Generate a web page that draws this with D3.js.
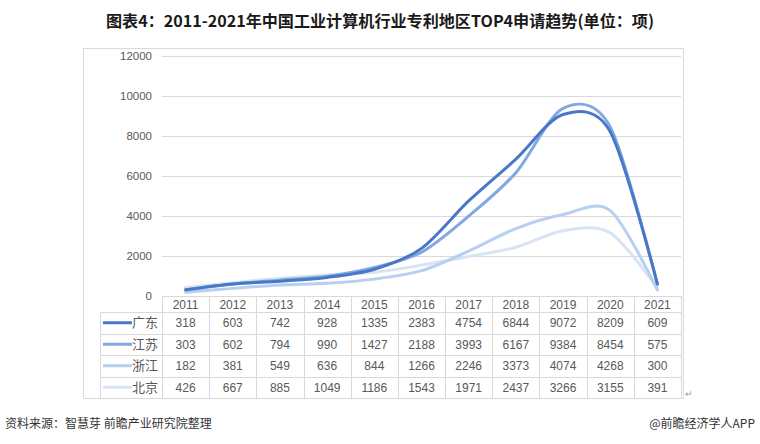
<!DOCTYPE html>
<html><head><meta charset="utf-8">
<script src="https://cdn.jsdelivr.net/npm/d3@7"></script>
<style>
body{margin:0;background:#fff;}
svg{display:block;font-family:"Noto Sans CJK SC","Noto Sans",sans-serif;}
</style></head>
<body>
<svg id="c" width="760" height="444"></svg>
<script>
const years = ["2011","2012","2013","2014","2015","2016","2017","2018","2019","2020","2021"];
const seriesNames = ["广东","江苏","浙江","北京"];
const guangdong = [318,603,742,928,1335,2383,4754,6844,9072,8209,609];
const jiangsu = [303,602,794,990,1427,2188,3993,6167,9384,8454,575];
const zhejiang = [182,381,549,636,844,1266,2246,3373,4074,4268,300];
const beijing = [426,667,885,1049,1186,1543,1971,2437,3266,3155,391];
const yTicks = [0,2000,4000,6000,8000,10000,12000];
const titleText = "图表4：2011-2021年中国工业计算机行业专利地区TOP4申请趋势(单位：项)";
const sourceText = "资料来源：智慧芽 前瞻产业研究院整理";
const brandText = "@前瞻经济学人APP";

const seriesValues = [guangdong, jiangsu, zhejiang, beijing];
const colors = ["#4a78c8","#80a9e2","#b7cff0","#d8e4f4"];

const svg = d3.select("#c");

// title
svg.append("text").attr("x",380).attr("y",27).attr("text-anchor","middle")
  .attr("font-size",16).attr("font-weight","bold").attr("fill","#1a1a1a")
  .attr("textLength",548).attr("lengthAdjust","spacingAndGlyphs")
  .text(titleText);

// outer frame
svg.append("rect").attr("x",83.5).attr("y",48.5).attr("width",600).attr("height",350)
  .attr("fill","none").attr("stroke","#d9d9d9");

const x = d3.scaleBand().domain(years).range([162,681]).padding(0);
const xc = d => x(d) + x.bandwidth()/2;
const y = d3.scaleLinear().domain([0,12000]).range([296,56]);

// gridlines
svg.append("g").selectAll("line").data(yTicks.filter(t=>t>0)).join("line")
  .attr("x1",162).attr("x2",681)
  .attr("y1",d=>Math.round(y(d))+0.5).attr("y2",d=>Math.round(y(d))+0.5)
  .attr("stroke","#d9d9d9");

// y axis labels
svg.append("g").selectAll("text").data(yTicks).join("text")
  .attr("x",152).attr("y",d=>y(d)+4).attr("text-anchor","end")
  .attr("font-size",11.5).attr("fill","#595959").attr("font-family","Liberation Sans, Arial, sans-serif")
  .text(d=>d);

// lines
const line = d3.line().x((d,i)=>xc(years[i])).y(d=>y(d)).curve(d3.curveCardinal.tension(0.1));
const order = [3,2,1,0];
svg.append("g").selectAll("path").data(order).join("path")
  .attr("d",i=>line(seriesValues[i]))
  .attr("fill","none").attr("stroke",i=>colors[i]).attr("stroke-width",3)
  .attr("stroke-linecap","round");

// table
const rowEdges = [296,312,333.5,355,376.5,398];
const tg = svg.append("g");
const gridCol = "#d9d9d9";
// horizontal lines
tg.append("line").attr("x1",162).attr("x2",681).attr("y1",296.5).attr("y2",296.5).attr("stroke",gridCol);
rowEdges.slice(1).forEach(e=>{
  tg.append("line").attr("x1",100).attr("x2",681).attr("y1",Math.round(e)+0.5).attr("y2",Math.round(e)+0.5).attr("stroke",gridCol);
});
// vertical lines
tg.append("line").attr("x1",100.5).attr("x2",100.5).attr("y1",312).attr("y2",398).attr("stroke",gridCol);
years.forEach(yr=>{
  const xx = Math.round(x(yr))+0.5;
  tg.append("line").attr("x1",xx).attr("x2",xx).attr("y1",296).attr("y2",398).attr("stroke",gridCol);
});
tg.append("line").attr("x1",681.5).attr("x2",681.5).attr("y1",296).attr("y2",398).attr("stroke",gridCol);

// header years
tg.selectAll("text.yr").data(years).join("text").attr("class","yr")
  .attr("x",d=>xc(d)).attr("y",(rowEdges[0]+rowEdges[1])/2+4.5).attr("text-anchor","middle")
  .attr("font-size",12).attr("fill","#595959").attr("font-family","Liberation Sans, Arial, sans-serif")
  .text(d=>d);

// rows
seriesNames.forEach((name,si)=>{
  const cy = (rowEdges[si+1]+rowEdges[si+2])/2;
  tg.append("line").attr("x1",103).attr("x2",132).attr("y1",cy).attr("y2",cy)
    .attr("stroke",colors[si]).attr("stroke-width",3);
  tg.append("text").attr("x",158).attr("y",cy+4.5).attr("text-anchor","end")
    .attr("font-size",13).attr("fill","#595959").text(name);
  tg.selectAll("text.v"+si).data(seriesValues[si]).join("text").attr("class","v"+si)
    .attr("x",(d,i)=>xc(years[i])).attr("y",cy+4.5).attr("text-anchor","middle")
    .attr("font-size",12).attr("fill","#595959").attr("font-family","Liberation Sans, Arial, sans-serif")
    .text(d=>d);
});

// return mark
svg.append("text").attr("x",685).attr("y",397).attr("font-size",9).attr("fill","#999").text("↵");

// footer
svg.append("text").attr("x",5).attr("y",428).attr("font-size",12).attr("fill","#333").text(sourceText);
svg.append("text").attr("x",755).attr("y",428).attr("text-anchor","end").attr("font-size",12).attr("fill","#333").text(brandText);
</script>
</body></html>
